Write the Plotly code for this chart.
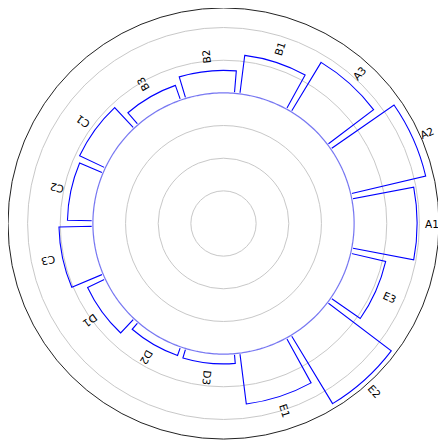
import numpy as np
import plotly.graph_objects as go

# bar groups, read counterclockwise from east
labels = ["A1", "A2", "A3", "B1", "B2", "B3", "C1", "C2", "C3",
          "D1", "D2", "D3", "E1", "E2", "E3"]
values = [1.93, 2.36, 1.77, 1.19, 0.69, 0.48, 0.87, 0.78, 1.04,
          0.60, 0.28, 0.30, 1.57, 2.45, 1.10]
base = 4.0
r_max = 6.6
grid_vals = [1, 2, 3, 4, 5, 6]

n = len(labels)
step = 360.0 / n
theta = [i * step for i in range(n)]

fig = go.Figure()

fig.add_trace(go.Barpolar(
    r=values, theta=theta, base=base, width=step * 0.9,
    marker=dict(color="rgba(0,0,0,0)", line=dict(color="#0000ff", width=1.1)),
    text=labels, showlegend=False))

# inner ring the bars stand on (white first to hide the bars' own inner arcs)
ring_theta = np.linspace(0, 360, 361)
fig.add_trace(go.Scatterpolar(
    r=[base] * len(ring_theta), theta=ring_theta, mode="lines",
    line=dict(color="white", width=2.5), hoverinfo="skip", showlegend=False))
fig.add_trace(go.Scatterpolar(
    r=[base] * len(ring_theta), theta=ring_theta, mode="lines",
    line=dict(color="rgba(60,60,235,0.7)", width=1.2),
    hoverinfo="skip", showlegend=False))

# rotated labels just beyond each bar top
annotations = []
for lab, v, t in zip(labels, values, theta):
    rr = (base + v + 0.45) / r_max
    a = np.radians(t)
    annotations.append(dict(
        x=0.5 + 0.5 * rr * np.cos(a), y=0.5 + 0.5 * rr * np.sin(a),
        xref="paper", yref="paper", xanchor="center", yanchor="middle",
        text=lab, showarrow=False, textangle=-t,
        font=dict(family="DejaVu Sans", size=10.5, color="black")))

fig.update_layout(
    width=446, height=446,
    margin=dict(l=0, r=15, t=0, b=15),
    paper_bgcolor="white",
    polar=dict(
        domain=dict(x=[0, 1], y=[0, 1]),
        bgcolor="white",
        radialaxis=dict(range=[0, r_max], tickvals=grid_vals, showticklabels=False,
                        ticks="", showline=False, gridcolor="#c8c8c8", gridwidth=1),
        angularaxis=dict(direction="counterclockwise", rotation=0, showgrid=False,
                         showticklabels=False, ticks="", showline=True,
                         linecolor="#222222", linewidth=1),
    ),
    annotations=annotations,
)

fig.write_html("out.html")
